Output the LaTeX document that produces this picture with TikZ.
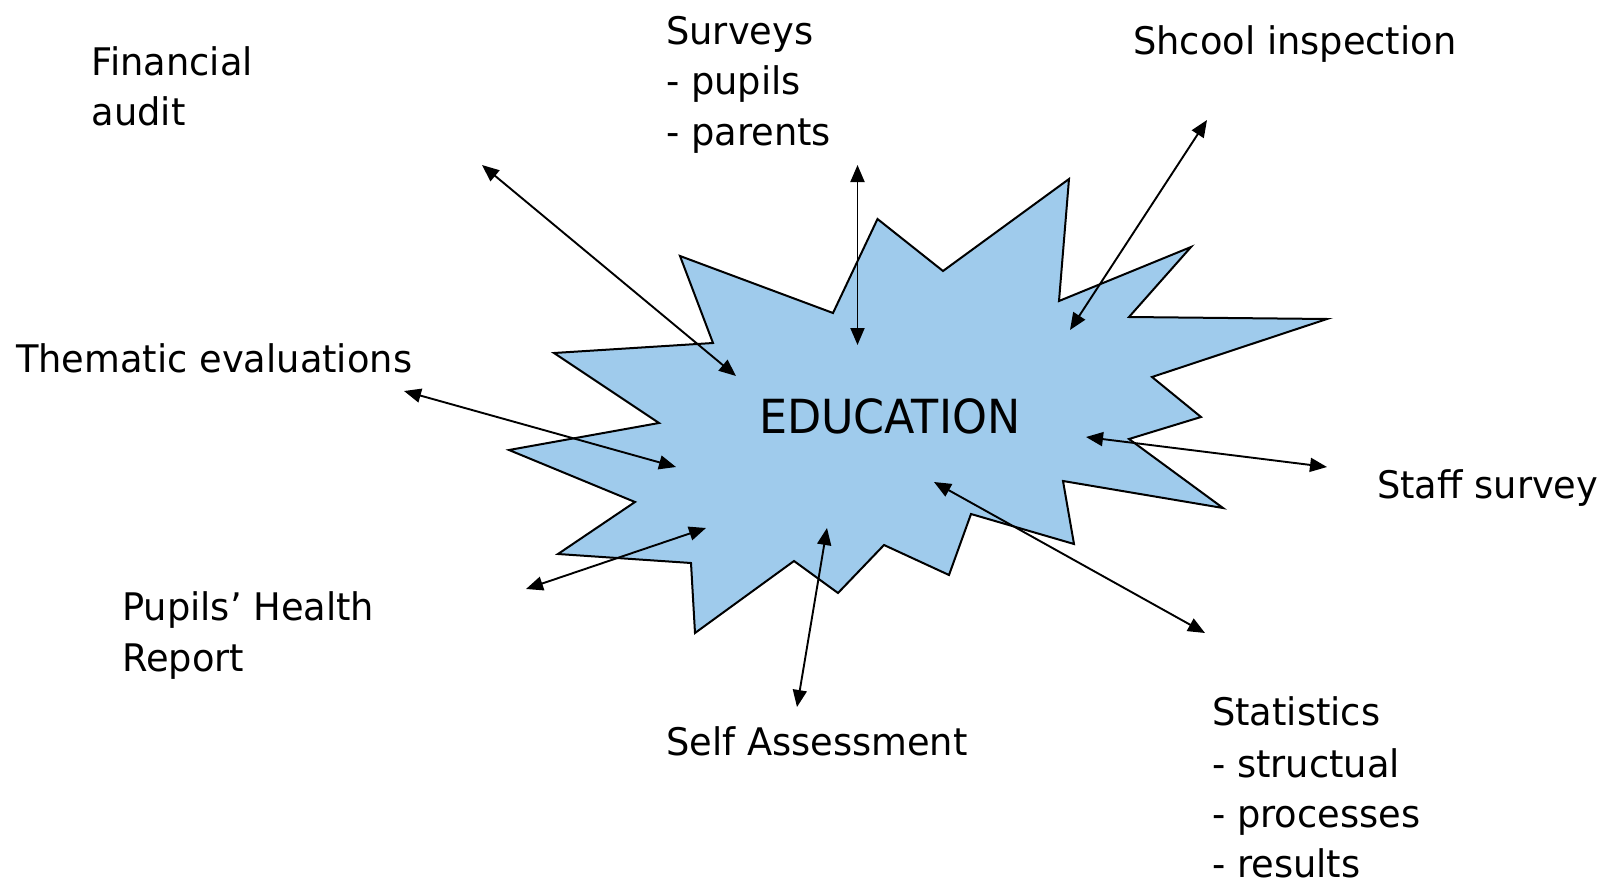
\documentclass[tikz,border=0pt]{standalone}
\usepackage{fontspec}
\setmainfont[FakeStretch=0.968]{DejaVu Sans}
\newfontfamily\edufont[FakeStretch=0.945]{DejaVu Sans}
\usetikzlibrary{arrows.meta}
\definecolor{starblue}{RGB}{159,203,236}
\begin{document}
\begin{tikzpicture}[x=1pt,y=-1pt,
  lbl/.style={anchor=base west, inner sep=0pt, font=\fontsize{38}{50}\selectfont},
  link/.style={line width=1.9pt, {Triangle[length=17pt,width=14pt]}-{Triangle[length=17pt,width=14pt]}},
  starshape/.style={fill=starblue, draw=black, line width=2pt, line join=miter}]
\useasboundingbox (0,0) rectangle (1604,883);
% star
\draw[starshape] (680,256) -- (833,313) -- (877.5,219) -- (943,271) -- (1069,179) -- (1059,301)
  -- (1191,247) -- (1129,317) -- (1327,319) -- (1152,377) -- (1201,417) -- (1129,439)
  -- (1223,508) -- (1063,481) -- (1074,544) -- (971,514) -- (949,575) -- (884,545)
  -- (838,593) -- (794,561) -- (695,633) -- (691,563) -- (558,554) -- (635,502)
  -- (509,450) -- (659,423) -- (554,353) -- (713,343) -- cycle;
\node[anchor=base west, inner sep=0pt, font=\edufont\fontsize{47}{50}\selectfont] (edu) at (759,433) {EDUCATION};
% labels
\node[lbl] (fin1) at (91.5,75) {Financial};
\node[lbl] (fin2) at (91.5,125) {audit};
\node[lbl] (them) at (16,372.5) {Thematic evaluations};
\node[lbl] (sur1) at (666,45) {Surveys};
\node[lbl] (sur2) at (666,95) {- pupils};
\node[lbl] (sur3) at (666,145) {- parents};
\node[lbl] (insp) at (1133,55) {Shcool inspection};
\node[lbl] (staff) at (1377,498) {Staff survey};
\node[lbl] (stat1) at (1212,725) {Statistics};
\node[lbl] (stat2) at (1212,777) {- structual};
\node[lbl] (stat3) at (1212,827) {- processes};
\node[lbl] (stat4) at (1212,877) {- results};
\node[lbl] (pup1) at (122,620) {Pupils’ Health};
\node[lbl] (pup2) at (122,671) {Report};
\node[lbl] (self) at (666,755) {Self Assessment};
% arrow ends
\coordinate (finA) at (482,165);   \coordinate (finB) at (736,376);
\coordinate (surA) at (857.5,165); \coordinate (surB) at (857.5,345);
\coordinate (inA) at (1207,120);   \coordinate (inB) at (1070,330);
\coordinate (thA) at (404,391);    \coordinate (thB) at (676,467);
\coordinate (stA) at (1086,437);   \coordinate (stB) at (1327,467);
\coordinate (puA) at (706,528);    \coordinate (puB) at (526,589);
\coordinate (seA) at (827,528);    \coordinate (seB) at (797,707);
\coordinate (saA) at (934,482);    \coordinate (saB) at (1205,633);
\draw[link] (finA) -- (finB);
\draw[link] (surA) -- (surB);
\draw[link] (inA) -- (inB);
\draw[link] (thA) -- (thB);
\draw[link] (stA) -- (stB);
\draw[link] (puA) -- (puB);
\draw[link] (seA) -- (seB);
\draw[link] (saA) -- (saB);
\end{tikzpicture}
\end{document}
